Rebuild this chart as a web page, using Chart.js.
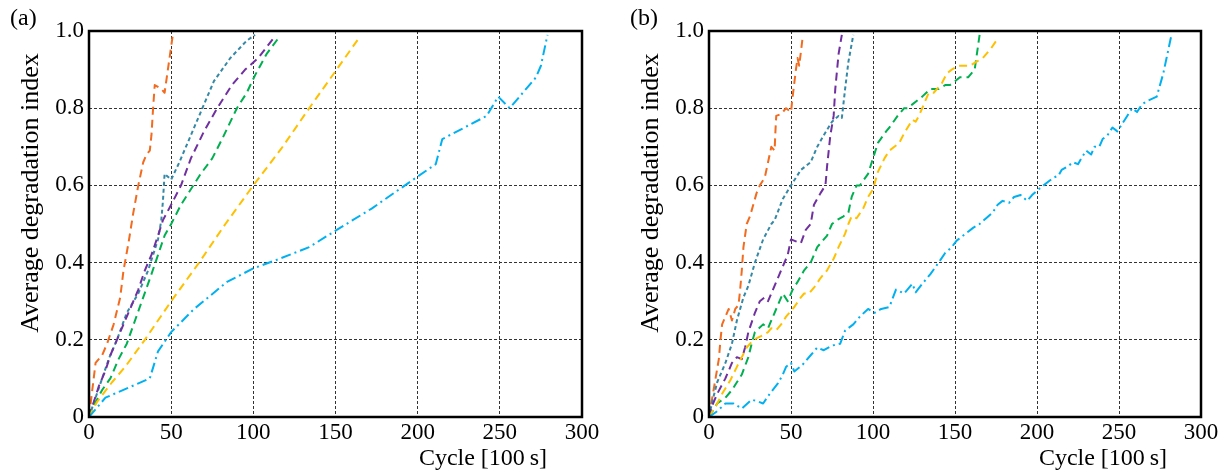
<!DOCTYPE html>
<html>
<head>
<meta charset="utf-8">
<script src="https://cdn.jsdelivr.net/npm/chart.js@4.4.1/dist/chart.umd.min.js"></script>
<style>
  body { margin: 0; background: #fff; }
  .panel { position: absolute; top: 0; }
</style>
</head>
<body>
<div class="panel" style="left:0"><canvas id="chartA" width="613" height="475"></canvas></div>
<div class="panel" style="left:620px"><canvas id="chartB" width="607" height="475"></canvas></div>
<script>
// axis ticks
const xTicks = [0, 50, 100, 150, 200, 250, 300];
const yTicks = [0, 0.2, 0.4, 0.6, 0.8, 1.0];

// panel (a): [cycle, index]
const aOrange = [[0,0],[2,0.07],[4,0.14],[8,0.16],[11,0.19],[15,0.24],[19,0.31],[21,0.38],[24,0.45],[27,0.53],[30,0.6],[33,0.66],[35,0.68],[37,0.69],[38,0.73],[39,0.8],[40,0.86],[44,0.85],[46,0.84],[48,0.9],[51,0.99]];
const aTeal = [[0,0],[4,0.05],[8,0.1],[12,0.15],[17,0.2],[23,0.27],[30,0.32],[33,0.35],[36,0.38],[39,0.42],[42,0.46],[44,0.51],[45,0.56],[46,0.63],[50,0.615],[55,0.66],[62,0.73],[69,0.8],[76,0.87],[86,0.93],[96,0.975],[101,0.99]];
const aPurple = [[0,0],[3,0.04],[6,0.08],[10,0.12],[13,0.16],[17,0.2],[22,0.25],[26,0.29],[30,0.33],[34,0.38],[38,0.42],[42,0.47],[45,0.51],[50,0.55],[56,0.6],[62,0.67],[70,0.74],[78,0.8],[87,0.86],[95,0.9],[103,0.93],[112,0.98]];
const aGreen = [[0,0],[3,0.03],[8,0.07],[13,0.1],[18,0.15],[23,0.19],[28,0.25],[33,0.31],[38,0.37],[42,0.42],[46,0.47],[50,0.5],[56,0.55],[62,0.59],[68,0.63],[75,0.67],[81,0.72],[90,0.8],[96,0.84],[101,0.885],[108,0.94],[115,0.98]];
const aYellow = [[0,0],[5,0.04],[14,0.09],[22,0.13],[34,0.2],[50,0.3],[67,0.4],[83,0.5],[100,0.6],[117,0.695],[134,0.8],[149,0.89],[164,0.98]];
const aBlue = [[0,0],[10,0.05],[37,0.1],[42,0.17],[50,0.22],[64,0.28],[84,0.35],[100,0.385],[116,0.41],[134,0.44],[149,0.48],[172,0.54],[199,0.62],[211,0.655],[215,0.72],[242,0.78],[249,0.83],[256,0.8],[272,0.88],[275,0.91],[279,0.99]];

// panel (b)
const bOrange = [[0,0],[2,0.05],[4,0.1],[6,0.15],[7,0.2],[8,0.24],[10,0.26],[12,0.28],[14,0.25],[16,0.28],[18,0.29],[19,0.33],[20,0.38],[21,0.44],[22,0.47],[23,0.5],[25,0.52],[27,0.55],[29,0.58],[31,0.6],[34,0.62],[36,0.66],[38,0.7],[40,0.69],[40.5,0.74],[41,0.78],[44,0.785],[47,0.8],[50,0.79],[51,0.83],[53,0.9],[54,0.93],[55,0.91],[57,0.98]];
const bTeal = [[0,0],[2,0.04],[5,0.09],[10,0.14],[14,0.19],[17,0.25],[21,0.31],[24,0.34],[28,0.4],[33,0.46],[38,0.5],[40,0.51],[45,0.565],[50,0.6],[56,0.64],[62,0.66],[66,0.7],[70,0.73],[75,0.765],[79,0.78],[81,0.775],[83,0.85],[85,0.92],[88,0.99]];
const bPurple = [[0,0],[2,0.03],[5,0.06],[10,0.1],[14,0.14],[17,0.155],[20,0.15],[22,0.18],[24,0.22],[28,0.27],[31,0.3],[34,0.31],[36,0.3],[39,0.33],[43,0.37],[48,0.42],[50,0.46],[53,0.455],[56,0.45],[59,0.485],[62,0.5],[64,0.55],[68,0.58],[71,0.6],[72,0.65],[74,0.73],[76,0.78],[77,0.85],[79,0.94],[81,0.99]];
const bGreen = [[0,0],[5,0.035],[10,0.05],[14,0.07],[17,0.09],[20,0.11],[24,0.155],[26,0.19],[28,0.22],[33,0.24],[36,0.23],[40,0.27],[42,0.29],[45,0.32],[48,0.3],[51,0.33],[54,0.35],[58,0.38],[62,0.4],[66,0.44],[70,0.46],[72,0.47],[75,0.5],[78,0.51],[82,0.52],[85,0.53],[87,0.57],[90,0.6],[92,0.6],[97,0.63],[100,0.67],[103,0.71],[108,0.74],[110,0.75],[115,0.78],[119,0.8],[121,0.8],[124,0.81],[127,0.82],[130,0.83],[135,0.85],[140,0.85],[144,0.86],[147,0.86],[150,0.87],[153,0.88],[158,0.88],[162,0.9],[163,0.93],[165,0.99]];
const bYellow = [[0,0],[5,0.035],[8,0.06],[13,0.095],[17,0.13],[20,0.155],[23,0.18],[27,0.2],[32,0.21],[36,0.22],[38,0.23],[41,0.225],[44,0.24],[47,0.26],[52,0.285],[56,0.31],[58,0.32],[61,0.32],[64,0.335],[68,0.36],[72,0.38],[76,0.41],[79,0.44],[83,0.475],[85,0.5],[87,0.52],[90,0.515],[94,0.54],[97,0.57],[100,0.59],[103,0.635],[107,0.67],[110,0.69],[113,0.7],[116,0.71],[119,0.735],[124,0.77],[126,0.765],[128,0.78],[131,0.81],[134,0.84],[137,0.84],[140,0.855],[142,0.865],[145,0.89],[148,0.9],[152,0.91],[156,0.91],[159,0.91],[163,0.92],[167,0.93],[172,0.955],[176,0.98]];
const bBlue = [[0,0],[5,0.015],[10,0.035],[15,0.035],[20,0.022],[26,0.045],[30,0.04],[33,0.035],[37,0.06],[42,0.087],[45,0.11],[47,0.13],[50,0.14],[52,0.118],[57,0.135],[62,0.16],[66,0.18],[70,0.173],[75,0.185],[80,0.19],[83,0.224],[88,0.24],[92,0.26],[97,0.28],[101,0.27],[105,0.28],[110,0.285],[114,0.33],[119,0.32],[124,0.345],[126,0.323],[130,0.345],[133,0.36],[135,0.37],[140,0.4],[144,0.425],[148,0.44],[151,0.457],[155,0.47],[158,0.48],[161,0.49],[165,0.5],[169,0.515],[173,0.53],[176,0.55],[179,0.56],[183,0.555],[186,0.57],[190,0.575],[194,0.56],[197,0.575],[201,0.59],[204,0.6],[207,0.61],[210,0.62],[213,0.625],[215,0.64],[219,0.65],[222,0.66],[225,0.655],[227,0.67],[230,0.69],[233,0.68],[235,0.7],[238,0.7],[240,0.72],[243,0.73],[246,0.75],[249,0.74],[252,0.76],[255,0.78],[258,0.8],[261,0.79],[264,0.81],[268,0.82],[273,0.83],[277,0.89],[279,0.93],[282,0.99]];

// line styles
const styles = {
    orange: { color: '#f26b1f', dash: [8, 5] },
    teal:   { color: '#3589a6', dash: [4, 3] },
    purple: { color: '#7030a0', dash: [8, 5] },
    green:  { color: '#00b050', dash: [8, 5] },
    yellow: { color: '#ffc000', dash: [8, 5] },
    blue:   { color: '#00b0f0', dash: [10, 4, 2, 4] }
};

const serif = '"Liberation Serif", "Times New Roman", serif';

function makeSets(series) {
    return series.map(([pts, key]) => ({
        data: pts.map(p => ({ x: p[0], y: p[1] })),
        borderColor: styles[key].color,
        borderDash: styles[key].dash,
        borderWidth: 2,
        pointRadius: 0,
        tension: 0,
        fill: false,
        borderCapStyle: 'butt',
        borderJoinStyle: 'round'
    }));
}

// frame + labels drawn on top of the axes
const panelText = {
    id: 'panelText',
    afterDatasetsDraw(chart) {
        const { ctx, chartArea: a } = chart;
        ctx.save();
        ctx.strokeStyle = '#000';
        ctx.lineWidth = 2.5;
        ctx.strokeRect(a.left, a.top, a.right - a.left, a.bottom - a.top);
        ctx.restore();
    },
    afterDraw(chart, args, opts) {
        const ctx = chart.ctx;
        ctx.save();
        ctx.fillStyle = '#000';
        ctx.textBaseline = 'alphabetic';
        ctx.font = '24px ' + serif;
        ctx.textAlign = 'left';
        ctx.fillText(opts.label, 10, 25);
        ctx.textAlign = 'right';
        ctx.fillText('Cycle [100\u2009s]', 547, 465);
        ctx.translate(38, 193);
        ctx.rotate(-Math.PI / 2);
        ctx.textAlign = 'center';
        ctx.font = '26px ' + serif;
        ctx.fillText('Average degradation index', 0, 0);
        ctx.restore();
    }
};

function gridColor(ctx) {
    const v = ctx.tick ? ctx.tick.value : null;
    if (v === null) return 'rgba(0,0,0,0)';
    return (Math.abs(v) < 1e-9 || Math.abs(v - 1) < 1e-9 || v === 300) ? 'rgba(0,0,0,0)' : '#333';
}

function buildChart(id, label, series, rightPad) {
    new Chart(document.getElementById(id), {
        type: 'line',
        data: { datasets: makeSets(series) },
        plugins: [panelText],
        options: {
            responsive: false,
            devicePixelRatio: 1,
            animation: false,
            layout: { padding: { left: 0, right: rightPad, top: 31, bottom: 0 } },
            plugins: {
                legend: { display: false },
                tooltip: { enabled: false },
                panelText: { label: label }
            },
            scales: {
                x: {
                    type: 'linear',
                    min: xTicks[0],
                    max: xTicks[xTicks.length - 1],
                    afterBuildTicks: s => { s.ticks = xTicks.map(v => ({ value: v })); },
                    afterFit: s => { s.height = 58; },
                    grid: { color: gridColor, lineWidth: 1, drawTicks: false },
                    border: { display: false, dash: [3, 2] },
                    ticks: {
                        color: '#000',
                        padding: 2,
                        maxRotation: 0,
                        autoSkip: false,
                        font: { family: serif, size: 23 },
                        callback: v => String(v)
                    }
                },
                y: {
                    type: 'linear',
                    min: yTicks[0],
                    max: yTicks[yTicks.length - 1],
                    afterBuildTicks: s => { s.ticks = yTicks.map(v => ({ value: v })); },
                    afterFit: s => { s.width = 89; },
                    grid: { color: gridColor, lineWidth: 1, drawTicks: false },
                    border: { display: false, dash: [3, 2] },
                    ticks: {
                        color: '#000',
                        padding: 5,
                        autoSkip: false,
                        font: { family: serif, size: 23 },
                        callback: v => (v === 0 ? '0' : v.toFixed(1))
                    }
                }
            }
        }
    });
}

buildChart('chartA', '(a)', [
    [aBlue, 'blue'], [aYellow, 'yellow'], [aGreen, 'green'],
    [aPurple, 'purple'], [aTeal, 'teal'], [aOrange, 'orange']
], 31);

buildChart('chartB', '(b)', [
    [bBlue, 'blue'], [bYellow, 'yellow'], [bGreen, 'green'],
    [bPurple, 'purple'], [bTeal, 'teal'], [bOrange, 'orange']
], 26);
</script>
</body>
</html>
